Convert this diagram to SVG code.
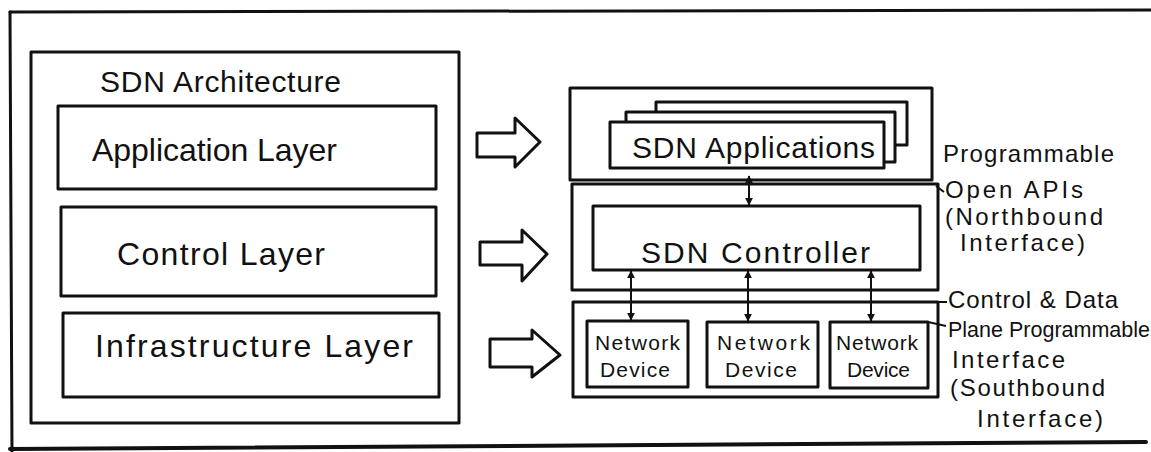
<svg xmlns="http://www.w3.org/2000/svg" width="1151" height="452" viewBox="0 0 1151 452">
  <style>
    .frame { fill: none; stroke: #111; stroke-width: 3; stroke-linecap: round; }
    .box { fill: #fff; stroke: #111; stroke-width: 3; stroke-linejoin: round; }
    .thin { fill: none; stroke: #111; stroke-width: 2; }
    .big { font-family: "Liberation Sans", "DejaVu Sans", sans-serif; font-size: 32px; fill: #111; }
    .mid { font-family: "Liberation Sans", "DejaVu Sans", sans-serif; font-size: 30px; fill: #111; }
    .small { font-family: "Liberation Sans", "DejaVu Sans", sans-serif; font-size: 21px; fill: #111; }
    .note { font-family: "Liberation Sans", "DejaVu Sans", sans-serif; font-size: 24px; fill: #111; }
    .hollow { fill: #fff; stroke: #111; stroke-width: 3; stroke-linejoin: round; }
    .link { stroke: #111; stroke-width: 2; fill: none; marker-start: url(#tip); marker-end: url(#tip); }
  </style>
  <defs>
    <marker id="tip" viewBox="0 0 10 10" refX="9" refY="5" markerWidth="8" markerHeight="8" orient="auto-start-reverse" markerUnits="userSpaceOnUse">
      <path d="M0,0 L10,5 L0,10 Z" fill="#111"/>
    </marker>
  </defs>

  <rect width="1151" height="452" fill="#fff"/>

  <!-- page frame -->
  <g id="frame">
    <path class="frame" d="M10,12 L1151,10"/>
    <path class="frame" d="M10,12 L12,452"/>
    <path class="frame" d="M10,449 L1146,442" style="stroke-width:4"/>
  </g>

  <!-- left: layered architecture -->
  <g id="sdn-architecture">
    <rect class="box" x="31" y="52" width="428" height="371"/>
    <text class="mid" x="100" y="92" textLength="241">SDN Architecture</text>
  </g>
  <g id="application-layer">
    <rect class="box" x="58" y="106" width="378" height="83"/>
    <text class="big" x="92" y="161" textLength="245">Application Layer</text>
  </g>
  <g id="control-layer">
    <rect class="box" x="61" y="207" width="375" height="89"/>
    <text class="big" x="117" y="265" textLength="208">Control Layer</text>
  </g>
  <g id="infrastructure-layer">
    <rect class="box" x="63" y="313" width="376" height="84"/>
    <text class="big" x="95" y="357" textLength="318">Infrastructure Layer</text>
  </g>

  <!-- hollow mapping arrows -->
  <g id="mapping-arrows">
    <path class="hollow" d="M477,133 L515,133 L515,118 L540,142 L515,167 L515,157 L477,157 Z"/>
    <path class="hollow" d="M480,242 L522,242 L522,230 L547,254 L522,281 L522,265 L480,265 Z"/>
    <path class="hollow" d="M490,339 L532,339 L532,330 L560,355 L532,377 L532,367 L490,367 Z"/>
  </g>

  <!-- right: application plane -->
  <g id="application-plane">
    <rect class="box" x="570" y="88" width="362" height="92"/>
  </g>
  <g id="sdn-applications">
    <rect class="box" x="656" y="102" width="251" height="43"/>
    <rect class="box" x="626" y="112" width="269" height="50"/>
    <rect class="box" x="610" y="122" width="274" height="46"/>
    <text class="mid" x="632" y="158" textLength="243">SDN Applications</text>
  </g>

  <!-- control plane -->
  <g id="control-plane">
    <rect class="box" x="572" y="184" width="366" height="106"/>
  </g>
  <g id="sdn-controller">
    <rect class="box" x="593" y="206" width="327" height="64"/>
    <text class="mid" x="641" y="263" textLength="229">SDN Controller</text>
  </g>

  <!-- data plane -->
  <g id="data-plane">
    <rect class="box" x="573" y="302" width="365" height="95"/>
  </g>
  <g id="network-device-1">
    <rect class="box" x="587" y="321" width="101" height="66"/>
    <text class="small" x="595" y="350" textLength="85">Network</text>
    <text class="small" x="600" y="377" textLength="70">Device</text>
  </g>
  <g id="network-device-2">
    <rect class="box" x="707" y="322" width="111" height="65"/>
    <text class="small" x="717" y="350" textLength="93">Network</text>
    <text class="small" x="725" y="377" textLength="72">Device</text>
  </g>
  <g id="network-device-3">
    <rect class="box" x="830" y="322" width="98" height="66"/>
    <text class="small" x="836" y="350" textLength="82">Network</text>
    <text class="small" x="847" y="377" textLength="63">Device</text>
  </g>

  <!-- interface connectors -->
  <g id="connectors">
    <line class="link" x1="749" y1="176" x2="749" y2="205"/>
    <line class="link" x1="631" y1="271" x2="631" y2="320"/>
    <line class="link" x1="748" y1="271" x2="748" y2="321"/>
    <line class="link" x1="871" y1="271" x2="871" y2="321"/>
    <path class="thin" d="M936,186 L944,192"/>
    <path class="thin" d="M936,302 L947,302"/>
    <path class="thin" d="M928,322 L946,326"/>
  </g>

  <!-- interface labels -->
  <g id="northbound-label">
    <text class="note" x="943" y="162" textLength="171">Programmable</text>
    <text class="note" x="945" y="198" textLength="138">Open APIs</text>
    <text class="note" x="945" y="225" textLength="158">(Northbound</text>
    <text class="note" x="960" y="251" textLength="125">Interface)</text>
  </g>
  <g id="southbound-label">
    <text class="note" x="948" y="308" textLength="170">Control &amp; Data</text>
    <text class="note" x="948" y="337" textLength="202" style="font-size:21.5px">Plane Programmable</text>
    <text class="note" x="952" y="368" textLength="113">Interface</text>
    <text class="note" x="950" y="396" textLength="155">(Southbound</text>
    <text class="note" x="977" y="427" textLength="126">Interface)</text>
  </g>
</svg>
